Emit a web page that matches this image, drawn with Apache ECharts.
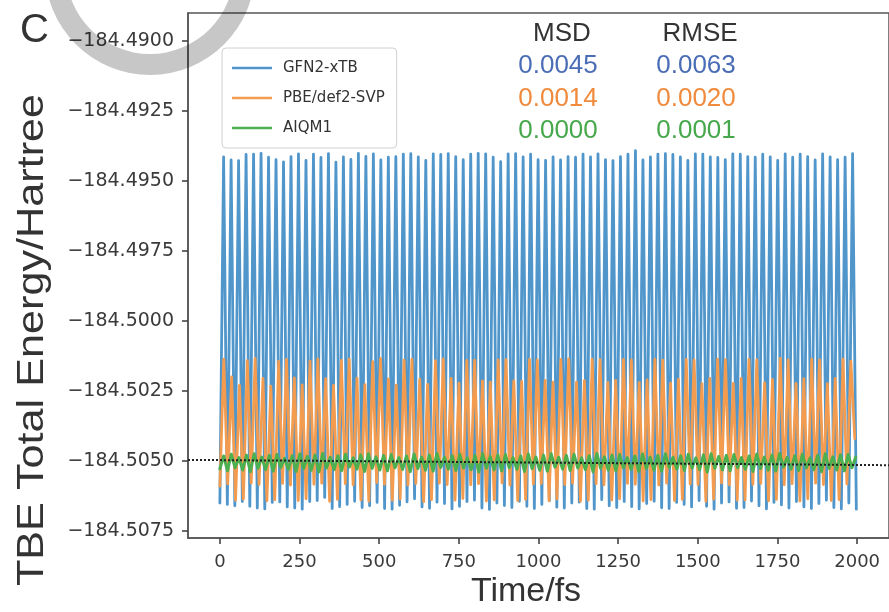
<!DOCTYPE html>
<html>
<head>
<meta charset="utf-8">
<script src="https://cdn.jsdelivr.net/npm/echarts@6/dist/echarts.min.js"></script>
<style>
  html, body { margin: 0; padding: 0; background: #fff; }
  #chart { width: 889px; height: 612px; }
</style>
</head>
<body>
<div id="chart"></div>
<script>
// ---------------- data ----------------
const seriesNames = ['GFN2-xTB', 'PBE/def2-SVP', 'AIQM1'];
const xTicks = [0, 250, 500, 750, 1000, 1250, 1500, 1750, 2000];
const yTicks = [-184.5075, -184.5050, -184.5025, -184.5000, -184.4975, -184.4950, -184.4925, -184.4900];

// GFN2-xTB: alternating troughs/peaks, sampled every half period (fs)
const blueStep = 11.75;
const blueHi = [-184.49414,-184.49425,-184.49427,-184.49405,-184.49404,-184.49401,-184.49415,-184.49424,-184.49432,-184.49413,
 -184.49403,-184.49426,-184.49404,-184.49416,-184.49402,-184.49433,-184.49414,-184.49423,-184.49401,-184.49412,
 -184.49403,-184.49425,-184.49415,-184.49413,-184.49404,-184.49402,-184.49414,-184.49426,-184.49403,-184.49405,
 -184.49402,-184.49413,-184.49424,-184.49404,-184.49401,-184.49403,-184.49415,-184.49431,-184.49403,-184.49402,
 -184.49414,-184.49404,-184.49424,
 -184.49426,-184.49414,-184.49425,-184.49413,-184.49415,-184.49404,-184.49414,-184.49403,-184.49424,-184.49427,
 -184.49413,-184.49404,-184.49392,-184.49425,-184.49414,-184.49404,-184.49402,-184.49405,-184.49414,-184.49426,
 -184.49403,-184.49404,-184.49414,-184.49416,-184.49424,-184.49403,-184.49404,-184.49413,-184.49415,-184.49404,
 -184.49414,-184.49426,-184.49403,-184.49415,-184.49404,-184.49413,-184.49425,-184.49403,-184.49414,-184.49424,
 -184.49415,-184.49402];
const blueLo = [-184.50650,-184.50655,-184.50660,-184.50645,-184.50662,-184.50668,-184.50671,-184.50648,-184.50646,-184.50664,
 -184.50668,-184.50672,-184.50645,-184.50641,-184.50630,-184.50670,-184.50663,-184.50655,-184.50644,-184.50666,
 -184.50660,-184.50648,-184.50670,-184.50672,-184.50658,-184.50646,-184.50635,-184.50664,-184.50669,-184.50647,
 -184.50652,-184.50671,-184.50662,-184.50645,-184.50640,-184.50668,-184.50673,-184.50650,-184.50659,-184.50666,
 -184.50644,-184.50662,-184.50670,-184.50655,
 -184.50642,-184.50665,-184.50668,-184.50650,-184.50647,-184.50670,-184.50672,-184.50638,-184.50660,-184.50666,
 -184.50645,-184.50663,-184.50671,-184.50652,-184.50644,-184.50667,-184.50670,-184.50648,-184.50655,-184.50664,
 -184.50641,-184.50662,-184.50672,-184.50650,-184.50646,-184.50669,-184.50666,-184.50643,-184.50660,-184.50671,
 -184.50648,-184.50657,-184.50668,-184.50645,-184.50664,-184.50670,-184.50652,-184.50640,-184.50666,-184.50671,
 -184.50650,-184.50672];

// PBE/def2-SVP
const orangeStep = 12.3;
const orangeHi = [-184.50136,-184.50200,-184.50230,-184.50142,-184.50134,-184.50205,-184.50233,-184.50144,-184.50137,-184.50203,
 -184.50228,-184.50143,-184.50135,-184.50206,-184.50230,-184.50141,-184.50136,-184.50204,-184.50227,-184.50145,
 -184.50134,-184.50207,-184.50229,-184.50140,-184.50136,-184.50208,-184.50226,-184.50142,-184.50135,-184.50205,
 -184.50222,-184.50141,-184.50140,-184.50214,-184.50218,-184.50139,-184.50138,-184.50214,-184.50216,-184.50137,
 -184.50139,-184.50212,-184.50218,-184.50137,-184.50135,-184.50218,-184.50213,-184.50136,-184.50138,-184.50219,
 -184.50212,-184.50137,-184.50139,-184.50220,-184.50210,-184.50136,-184.50140,-184.50222,-184.50209,-184.50137,
 -184.50139,-184.50224,-184.50205,-184.50136,-184.50138,-184.50223,-184.50205,-184.50137,-184.50139,-184.50221,
 -184.50209,-184.50134,-184.50139,-184.50223,-184.50206,-184.50136,-184.50139,-184.50224,-184.50205,-184.50136,
 -184.50143];
const orangeLo = [-184.50590,-184.50582,-184.50640,-184.50636,-184.50578,-184.50584,-184.50642,-184.50638,-184.50580,-184.50586,
 -184.50641,-184.50635,-184.50583,-184.50579,-184.50644,-184.50637,-184.50581,-184.50585,-184.50639,-184.50643,
 -184.50577,-184.50583,-184.50640,-184.50636,-184.50586,-184.50580,-184.50645,-184.50638,-184.50579,-184.50584,
 -184.50640,-184.50634,-184.50585,-184.50581,-184.50643,-184.50639,-184.50578,-184.50586,-184.50641,-184.50637,
 -184.50582,-184.50580,-184.50642,-184.50636,-184.50584,-184.50579,-184.50644,-184.50640,-184.50581,-184.50585,
 -184.50639,-184.50635,-184.50580,-184.50583,-184.50643,-184.50638,-184.50586,-184.50579,-184.50641,-184.50637,
 -184.50582,-184.50584,-184.50644,-184.50636,-184.50578,-184.50585,-184.50640,-184.50639,-184.50583,-184.50580,
 -184.50642,-184.50637,-184.50585,-184.50581,-184.50643,-184.50635,-184.50579,-184.50584,-184.50641,-184.50638,
 -184.50582,-184.50420];

// AIQM1
const greenStep = 11.95;
const greenHi = [-184.50482,-184.50476,-184.50488,-184.50479,-184.50474,-184.50486,-184.50480,-184.50477,-184.50490,-184.50481,
 -184.50475,-184.50484,-184.50479,-184.50473,-184.50487,-184.50481,-184.50476,-184.50489,-184.50478,-184.50474,
 -184.50485,-184.50480,-184.50477,-184.50488,-184.50482,-184.50475,-184.50486,-184.50479,-184.50473,-184.50487,
 -184.50481,-184.50476,-184.50489,-184.50480,-184.50474,-184.50484,-184.50478,-184.50477,-184.50488,-184.50482,
 -184.50475,-184.50486,-184.50479,-184.50474,-184.50487,-184.50480,-184.50476,-184.50489,-184.50481,-184.50473,
 -184.50485,-184.50479,-184.50477,-184.50488,-184.50482,-184.50475,-184.50486,-184.50480,-184.50474,-184.50487,
 -184.50481,-184.50476,-184.50489,-184.50478,-184.50474,-184.50484,-184.50480,-184.50477,-184.50488,-184.50482,
 -184.50475,-184.50486,-184.50479,-184.50473,-184.50487,-184.50481,-184.50476,-184.50489,-184.50480,-184.50474,
 -184.50485,-184.50478,-184.50477,-184.50486];
const greenLo = [-184.50528,-184.50535,-184.50524,-184.50532,-184.50538,-184.50526,-184.50531,-184.50536,-184.50523,-184.50530,
 -184.50537,-184.50527,-184.50533,-184.50539,-184.50525,-184.50531,-184.50534,-184.50522,-184.50529,-184.50537,
 -184.50526,-184.50532,-184.50535,-184.50524,-184.50530,-184.50538,-184.50527,-184.50533,-184.50536,-184.50523,
 -184.50529,-184.50534,-184.50525,-184.50531,-184.50539,-184.50526,-184.50532,-184.50535,-184.50524,-184.50530,
 -184.50537,-184.50527,-184.50533,-184.50536,-184.50522,-184.50529,-184.50534,-184.50525,-184.50531,-184.50538,
 -184.50526,-184.50532,-184.50535,-184.50524,-184.50530,-184.50537,-184.50527,-184.50533,-184.50536,-184.50523,
 -184.50529,-184.50534,-184.50525,-184.50531,-184.50539,-184.50526,-184.50532,-184.50535,-184.50524,-184.50530,
 -184.50537,-184.50527,-184.50533,-184.50536,-184.50522,-184.50529,-184.50534,-184.50525,-184.50531,-184.50538,
 -184.50526,-184.50532,-184.50535,-184.50524];

// reference energy (dotted line)
const refT = [-100, 2100];
const refE = [-184.50496, -184.50515];

// statistics table
const statHeaders = ['MSD', 'RMSE'];
const msd = ['0.0045', '0.0014', '0.0000'];
const rmse = ['0.0063', '0.0020', '0.0001'];

// ---------------- build ----------------
function interleave(lo, hi, step) {
  const out = [];
  const n = lo.length + hi.length;
  for (let i = 0; i < n; i++) {
    const v = (i % 2 === 0) ? lo[i / 2] : hi[(i - 1) / 2];
    if (v === undefined) continue;
    out.push([i * step, v]);
  }
  return out;
}
const blueData = interleave(blueLo, blueHi, blueStep);
const orangeData = interleave(orangeLo, orangeHi, orangeStep);
const greenData = interleave(greenLo, greenHi, greenStep);
const refData = refT.map((t, i) => [t, refE[i]]);

const colors = ['#5096cb', '#f39c4f', '#4caf50'];
const statColors = ['#4a6db5', '#f08a3c', '#46a84a'];

const chart = echarts.init(document.getElementById('chart'), null, { renderer: 'canvas' });

const statGraphics = [];
statHeaders.forEach((h, j) => {
  statGraphics.push({
    type: 'text', x: j === 0 ? 562 : 700, y: 34,
    style: { text: h, font: '26px "Liberation Sans", Arial, sans-serif', fill: '#333', align: 'center', verticalAlign: 'middle' }
  });
});
[msd, rmse].forEach((col, j) => {
  col.forEach((v, i) => {
    statGraphics.push({
      type: 'text', x: j === 0 ? 558 : 696, y: 66 + i * 32.5,
      style: { text: v, font: '26px "Liberation Sans", Arial, sans-serif', fill: statColors[i], align: 'center', verticalAlign: 'middle' }
    });
  });
});

const lineCommon = { join: 'round', cap: 'round' };
const tickStyle = { color: '#444', width: 1.6 };

chart.setOption({
  animation: false,
  backgroundColor: '#fff',
  color: colors,
  grid: { left: 188, right: -4, top: 13, bottom: 74, show: true, borderColor: '#555', borderWidth: 1.5, backgroundColor: 'transparent' },
  legend: {
    data: seriesNames.map(n => ({ name: n, icon: 'rect' })),
    orient: 'vertical', left: 222, top: 48,
    itemWidth: 40, itemHeight: 2.5, itemGap: 12,
    padding: [11, 12, 11, 10],
    backgroundColor: '#fff', borderColor: '#d0d0d0', borderWidth: 1, borderRadius: 4,
    textStyle: { fontFamily: '"DejaVu Sans", sans-serif', fontSize: 15, color: '#333', lineHeight: 18, padding: [0, 0, 0, 6] }
  },
  xAxis: {
    type: 'value', min: -100, max: 2100,
    axisLine: { show: true, onZero: false, lineStyle: { color: '#555', width: 1.5 } },
    splitLine: { show: false },
    axisTick: { show: true, customValues: xTicks, length: 6, lineStyle: tickStyle },
    axisLabel: { customValues: xTicks, margin: 15, fontFamily: '"DejaVu Sans", sans-serif', fontSize: 18, color: '#3a3a3a',
      formatter: v => String(Math.round(v)) }
  },
  yAxis: {
    type: 'value', min: -184.50775, max: -184.489, scale: true,
    axisLine: { show: true, onZero: false, lineStyle: { color: '#555', width: 1.5 } },
    splitLine: { show: false },
    axisTick: { show: true, customValues: yTicks, length: 6, lineStyle: tickStyle },
    axisLabel: { customValues: yTicks, margin: 14, fontFamily: '"DejaVu Sans", sans-serif', fontSize: 19, color: '#3a3a3a',
      formatter: v => '\u2212' + Math.abs(v).toFixed(4) }
  },
  series: [
    { name: seriesNames[0], type: 'line', data: blueData, symbol: 'none', lineStyle: Object.assign({ width: 2.8, color: colors[0] }, lineCommon), z: 2 },
    { name: seriesNames[1], type: 'line', data: orangeData, symbol: 'none', lineStyle: Object.assign({ width: 2.8, color: colors[1] }, lineCommon), z: 3 },
    { name: seriesNames[2], type: 'line', data: greenData, symbol: 'none', lineStyle: Object.assign({ width: 3, color: colors[2] }, lineCommon), z: 4 },
    { name: 'ref', type: 'line', data: refData, symbol: 'none', clip: false, silent: true,
      lineStyle: { width: 2, color: '#222', type: [2, 2] }, z: 5 }
  ],
  graphic: [
    { type: 'text', left: 20, top: 11, style: { text: 'C', font: '40px "Liberation Sans", Arial, sans-serif', fill: '#333' }, z: 10 },
    { type: 'ring', shape: { cx: 150, cy: -30, r: 105, r0: 84 }, style: { fill: 'rgba(0,0,0,0.22)' }, z: 100 },
    { type: 'text', x: 33, y: 340, rotation: Math.PI / 2, scaleX: 1.2, scaleY: 1,
      style: { text: 'TBE Total Energy/Hartree', font: '36px "Liberation Sans", Arial, sans-serif', fill: '#333', align: 'center', verticalAlign: 'middle' }, z: 10 },
    { type: 'text', x: 526, y: 592,
      style: { text: 'Time/fs', font: '34px "Liberation Sans", Arial, sans-serif', fill: '#333', align: 'center', verticalAlign: 'middle' }, z: 10 }
  ].concat(statGraphics)
});
</script>
</body>
</html>
